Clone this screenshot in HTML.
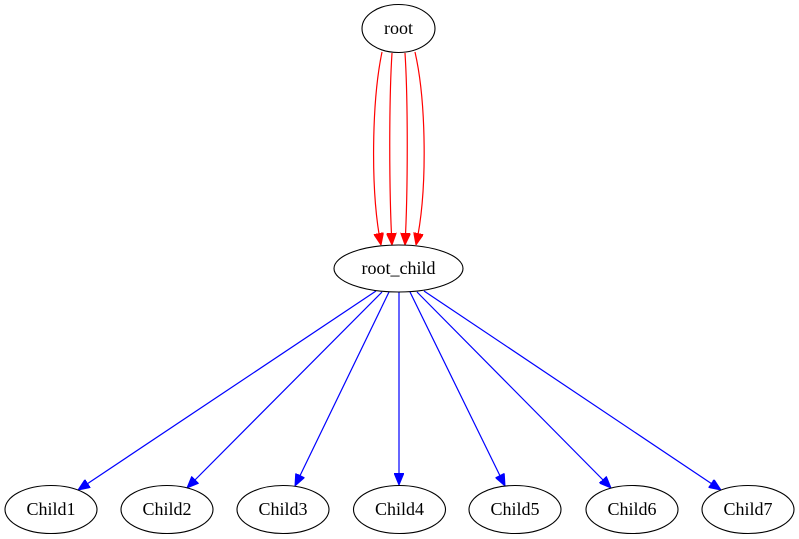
<!DOCTYPE html>
<html><head><style>body{margin:0;background:#fff}svg{display:block}</style></head><body>
<svg width="799" height="539" viewBox="0 0 799 539" xmlns="http://www.w3.org/2000/svg" font-family="Liberation Serif, serif" font-size="18">
<defs>
<marker id="r" markerWidth="12" markerHeight="10" refX="12" refY="5" orient="auto" markerUnits="userSpaceOnUse"><path d="M0,0 L12,5 L0,10 Z" fill="red" stroke="red"/></marker>
<marker id="b" markerWidth="12" markerHeight="10" refX="12" refY="5" orient="auto" markerUnits="userSpaceOnUse"><path d="M0,0 L12,5 L0,10 Z" fill="blue" stroke="blue"/></marker>
</defs>
<g fill="none" stroke="red" stroke-width="1.2">
<path d="M382,52 C372,100 370,190 381,245" marker-end="url(#r)"/>
<path d="M392,53 C389,100 389,190 392,245" marker-end="url(#r)"/>
<path d="M405,53 C408,100 408,190 405,245" marker-end="url(#r)"/>
<path d="M415,52 C426,100 428,190 416,245" marker-end="url(#r)"/>
</g>
<g stroke="blue" stroke-width="1.2" fill="none">
<line x1="376" y1="291" x2="78" y2="490" marker-end="url(#b)"/>
<line x1="382" y1="292" x2="187" y2="488" marker-end="url(#b)"/>
<line x1="389" y1="292" x2="295" y2="486" marker-end="url(#b)"/>
<line x1="399" y1="292" x2="399" y2="485" marker-end="url(#b)"/>
<line x1="410" y1="292" x2="505" y2="486" marker-end="url(#b)"/>
<line x1="417" y1="292" x2="611" y2="488" marker-end="url(#b)"/>
<line x1="424" y1="291" x2="721" y2="490" marker-end="url(#b)"/>
</g>
<g fill="none" stroke="#000" stroke-width="1.1">
<ellipse cx="398.5" cy="28.5" rx="36.5" ry="24"/>
<ellipse cx="398.5" cy="268.5" rx="64.5" ry="23.5"/>
<ellipse cx="51" cy="509.5" rx="46" ry="24"/>
<ellipse cx="167" cy="509.5" rx="46" ry="24"/>
<ellipse cx="283" cy="509.5" rx="46" ry="24"/>
<ellipse cx="399.5" cy="509.5" rx="46" ry="24"/>
<ellipse cx="515" cy="509.5" rx="46" ry="24"/>
<ellipse cx="632" cy="509.5" rx="46" ry="24"/>
<ellipse cx="748" cy="509.5" rx="46" ry="24"/>
</g>
<g text-anchor="middle" fill="#000" textLength="">
<text x="398.5" y="34">root</text>
<text x="398.5" y="274">root_child</text>
<text x="51" y="515">Child1</text>
<text x="167" y="515">Child2</text>
<text x="283" y="515">Child3</text>
<text x="399.5" y="515">Child4</text>
<text x="515" y="515">Child5</text>
<text x="632" y="515">Child6</text>
<text x="748" y="515">Child7</text>
</g>
</svg>
</body></html>
